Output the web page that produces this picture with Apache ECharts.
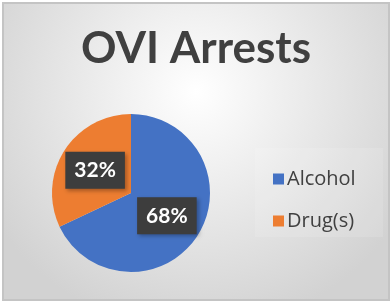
<!DOCTYPE html>
<html><head><meta charset="utf-8">
<script src="https://cdn.jsdelivr.net/npm/echarts@6/dist/echarts.min.js"></script>
<style>html,body{margin:0;padding:0;background:#fff}#c{width:392px;height:304px}</style>
</head><body><div id="c"></div>
<script>
const categories = ['Alcohol', 'Drug(s)'];
const values = [68, 32];
const colors = ['#4472C4', '#ED7D31'];

const chart = echarts.init(document.getElementById('c'), null, {renderer: 'canvas'});
chart.setOption({
  animation: false,
  graphic: [
    {type: 'rect', z: -10, shape: {x: 3, y: 3, width: 386, height: 297},
     style: {fill: {type: 'radial', x: 0.5, y: 0.3, r: 0.8,
       colorStops: [{offset: 0, color: '#ffffff'}, {offset: 1, color: '#d2d2d2'}]},
       stroke: '#c4c4c4', lineWidth: 2}},
    {type: 'rect', z: -9, shape: {x: 255, y: 148, width: 128, height: 89},
     style: {fill: 'rgba(255,255,255,0.12)'}}
  ],
  title: {text: 'OVI Arrests', left: 'center', top: 22,
    textStyle: {fontFamily: 'Lato', fontWeight: 'bold', fontSize: 44, color: '#404040'}},
  legend: {orient: 'vertical', left: 268, top: 164, itemWidth: 11, itemHeight: 11, itemGap: 22,
    icon: 'rect', data: categories,
    textStyle: {fontFamily: 'Open Sans', fontSize: 20, color: '#404040', padding: [0,0,0,-2]}},
  series: [{
    type: 'pie', center: [131, 193], radius: 79, startAngle: 90, clockwise: true,
    data: categories.map((n, i) => ({name: n, value: values[i], itemStyle: {color: colors[i]}})),
    label: {show: true, position: 'inside', formatter: '{d}%',
      fontFamily: 'Lato', fontWeight: 'bold', fontSize: 21, color: '#ffffff',
      backgroundColor: '#3d3d3d', padding: [9, 9, 7, 9],
      shadowColor: 'rgba(0,0,0,0.3)', shadowBlur: 4, shadowOffsetX: 2, shadowOffsetY: 2},
    labelLine: {show: false},
    emphasis: {disabled: true}
  }]
});
</script></body></html>
